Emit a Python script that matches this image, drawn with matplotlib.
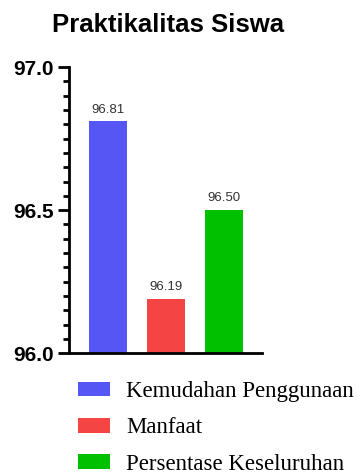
import matplotlib
matplotlib.use('Agg')
import matplotlib.pyplot as plt
from matplotlib.patches import Patch
from matplotlib.ticker import MultipleLocator, FormatStrFormatter

# data
categories = ['Kemudahan Penggunaan', 'Manfaat', 'Persentase Keseluruhan']
values = [96.81, 96.19, 96.50]
colors = ['#5656F4', '#F44444', '#00C000']

fig = plt.figure(figsize=(3.64, 4.76), dpi=100)
ax = fig.add_axes([0.189, 0.258, 0.531, 0.601])

x = range(len(categories))
bars = ax.bar(x, values, width=0.66, color=colors)

# angka di atas batang
for b, v in zip(bars, values):
    ax.text(b.get_x() + b.get_width() / 2, v + 0.02, f'{v:.2f}',
            ha='center', va='bottom', fontsize=9.5, color='#333333',
            family='Liberation Sans')

ax.set_ylim(96.0, 97.0)
ax.set_xlim(-0.67, 2.66)
ax.yaxis.set_major_locator(MultipleLocator(0.5))
ax.yaxis.set_minor_locator(MultipleLocator(0.05))
ax.yaxis.set_major_formatter(FormatStrFormatter('%.1f'))
ax.tick_params(axis='y', which='major', length=8, width=2, labelsize=15, pad=3)
ax.tick_params(axis='y', which='minor', length=4, width=2)
ax.set_xticks([])
for lab in ax.get_yticklabels():
    lab.set_fontweight('bold')
    lab.set_family('Liberation Sans')

ax.spines['top'].set_visible(False)
ax.spines['right'].set_visible(False)
ax.spines['left'].set_linewidth(2)
ax.spines['bottom'].set_linewidth(2)

fig.text(0.463, 0.948, 'Praktikalitas Siswa', ha='center', va='center',
         fontsize=18.5, fontweight='bold', family='Liberation Sans')

handles = [Patch(facecolor=c, label=l) for c, l in zip(colors, categories)]
fig.legend(handles=handles, loc='upper left', bbox_to_anchor=(0.214, 0.199),
           frameon=False, prop={'family': 'Liberation Serif', 'size': 16.5},
           handlelength=1.4, handleheight=0.6, labelspacing=0.66,
           handletextpad=0.7, borderaxespad=0, borderpad=0)

plt.savefig('out.png', dpi=100)
